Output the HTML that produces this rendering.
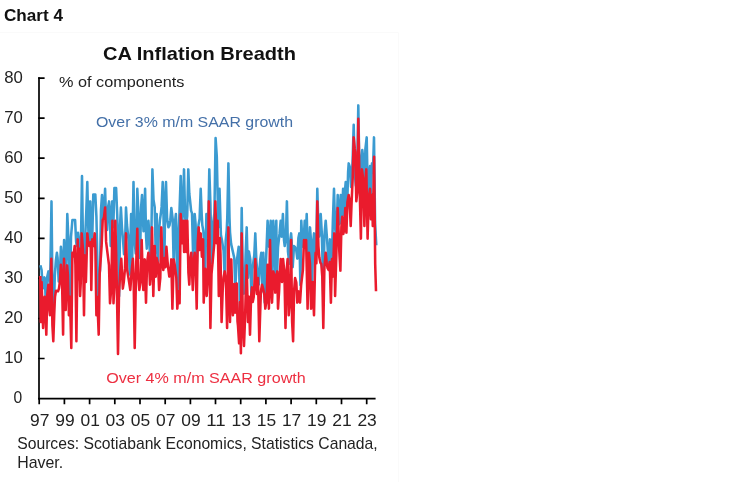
<!DOCTYPE html>
<html><head><meta charset="utf-8">
<style>
html,body{margin:0;padding:0;background:#fff;}
body{width:750px;height:482px;position:relative;overflow:hidden;font-family:"Liberation Sans",sans-serif;}
svg{position:absolute;left:0;top:0;}
text{font-family:"Liberation Sans",sans-serif;}
</style></head><body>
<svg width="750" height="482" viewBox="0 0 750 482">
<rect x="0" y="0" width="750" height="482" fill="#fff"/>
<path d="M0 32.5H398.5V482" fill="none" stroke="#fafafa" stroke-width="1"/>
<text x="4" y="21" font-size="16.8" font-weight="bold" fill="#111" textLength="59" lengthAdjust="spacingAndGlyphs">Chart 4</text>
<text x="103" y="60" font-size="18.2" font-weight="bold" fill="#111" textLength="193" lengthAdjust="spacingAndGlyphs">CA Inflation Breadth</text>
<text x="59" y="86.6" font-size="15.5" fill="#222" textLength="125.5" lengthAdjust="spacingAndGlyphs">% of components</text>
<text x="96" y="126.6" font-size="15.5" fill="#4470a8" textLength="197" lengthAdjust="spacingAndGlyphs">Over 3% m/m SAAR growth</text>
<text x="106.2" y="382.9" font-size="15.5" fill="#ed2f41" textLength="199.5" lengthAdjust="spacingAndGlyphs">Over 4% m/m SAAR growth</text>
<g font-size="15.7" fill="#222">
<text x="4.2" y="82.7" textLength="18.6" lengthAdjust="spacingAndGlyphs">80</text><text x="4.2" y="122.8" textLength="18.6" lengthAdjust="spacingAndGlyphs">70</text><text x="4.2" y="162.8" textLength="18.6" lengthAdjust="spacingAndGlyphs">60</text><text x="4.2" y="202.9" textLength="18.6" lengthAdjust="spacingAndGlyphs">50</text><text x="4.2" y="243.0" textLength="18.6" lengthAdjust="spacingAndGlyphs">40</text><text x="4.2" y="283.0" textLength="18.6" lengthAdjust="spacingAndGlyphs">30</text><text x="4.2" y="323.1" textLength="18.6" lengthAdjust="spacingAndGlyphs">20</text><text x="4.2" y="363.1" textLength="18.6" lengthAdjust="spacingAndGlyphs">10</text><text x="13.6" y="403.4" textLength="8.7" lengthAdjust="spacingAndGlyphs">0</text>
</g>
<g stroke="#000" stroke-width="1.7" fill="none">
<path d="M39 77.3V399.4"/>
<path d="M38.2 398.6H375.6"/>
<path d="M38.2 358.5H44.6M38.2 318.5H44.6M38.2 278.4H44.6M38.2 238.4H44.6M38.2 198.3H44.6M38.2 158.2H44.6M38.2 118.2H44.6M38.2 78.1H44.6"/>
<path d="M39.2 398V404.2M64.4 398V404.2M89.6 398V404.2M114.8 398V404.2M140.0 398V404.2M165.2 398V404.2M190.4 398V404.2M215.5 398V404.2M240.7 398V404.2M265.9 398V404.2M291.1 398V404.2M316.3 398V404.2M341.5 398V404.2M366.7 398V404.2"/>
</g>
<g id="series" fill="none" stroke-linejoin="round" stroke-linecap="butt">
<path d="M40.4 265.3 L41.6 270.1 L42.7 288.6 L43.7 279.2 L44.4 277.4 L45.0 282.8 L46.0 306.6 L47.0 278.0 L48.4 271.4 L49.7 283.3 L50.4 267.3 L51.5 201.4 L52.5 293.3 L53.7 315.7 L54.8 275.8 L55.9 260.4 L56.9 252.7 L57.6 258.0 L58.7 281.5 L59.9 274.9 L60.9 246.7 L61.5 253.9 L62.5 284.7 L63.1 276.2 L64.1 240.0 L65.2 269.7 L65.7 276.6 L66.3 264.5 L67.3 214.0 L68.4 238.7 L69.0 260.5 L70.0 303.3 L71.0 236.8 L72.4 220.0 L75.1 220.0 L76.1 241.3 L76.7 246.0 L78.0 232.7 L78.5 236.8 L79.6 255.3 L81.0 239.9 L82.0 176.0 L83.0 245.2 L84.4 262.0 L85.5 230.5 L86.3 211.0 L87.3 182.0 L88.4 231.8 L89.1 243.7 L90.3 201.4 L91.3 246.0 L92.3 236.2 L93.3 194.4 L95.3 194.4 L96.4 216.4 L97.0 242.7 L98.0 303.3 L99.0 277.0 L100.0 270.3 L101.0 209.6 L102.0 195.1 L103.3 217.1 L104.0 211.9 L105.1 188.7 L106.1 222.1 L107.1 230.0 L108.1 206.7 L109.1 201.4 L109.6 209.9 L110.7 246.0 L111.7 209.9 L112.3 201.4 L113.3 227.3 L114.4 188.0 L116.1 188.0 L117.2 214.3 L118.0 240.4 L119.1 296.2 L120.1 224.9 L120.9 207.6 L122.0 228.1 L123.0 239.6 L124.0 254.1 L125.0 245.3 L126.0 207.6 L127.0 225.0 L128.7 241.4 L129.7 274.4 L131.1 214.0 L132.1 265.3 L133.5 182.0 L134.5 239.5 L135.7 253.4 L136.3 240.9 L137.3 188.7 L138.4 213.0 L138.9 230.0 L140.0 258.0 L141.1 207.3 L142.0 195.1 L143.5 231.3 L144.0 223.2 L145.1 188.7 L146.1 237.1 L146.8 248.6 L147.9 225.9 L148.4 220.7 L148.9 227.6 L150.0 257.4 L151.3 240.2 L152.4 169.4 L153.5 199.6 L154.7 207.3 L155.7 252.6 L156.7 214.0 L157.7 267.3 L158.8 233.6 L159.9 220.4 L160.9 213.3 L161.6 206.9 L162.7 182.0 L163.2 198.1 L164.3 264.6 L165.3 198.1 L166.0 182.0 L167.1 218.7 L168.4 227.3 L169.5 225.3 L170.3 220.4 L171.3 208.0 L172.7 219.2 L173.7 266.0 L174.8 224.0 L175.9 214.0 L176.4 230.4 L177.5 298.0 L178.5 238.4 L179.6 208.8 L180.7 176.0 L182.0 223.7 L182.9 213.3 L184.0 169.4 L185.1 216.1 L186.0 227.3 L187.2 216.1 L188.3 169.4 L189.3 193.7 L190.0 200.0 L191.1 210.7 L192.0 213.3 L193.3 262.1 L194.7 214.0 L195.6 224.2 L196.7 267.0 L197.7 236.8 L198.5 225.0 L199.6 218.7 L200.7 188.7 L201.7 214.9 L202.3 225.1 L203.3 230.7 L204.0 239.7 L205.1 275.3 L206.4 214.0 L207.6 236.6 L208.3 223.6 L209.3 169.4 L210.4 203.7 L210.9 226.6 L212.0 263.3 L213.1 223.5 L214.4 213.3 L215.6 138.0 L216.8 156.7 L218.3 227.3 L219.5 188.7 L220.9 234.7 L222.0 240.4 L223.6 250.9 L224.7 278.0 L225.7 240.3 L226.7 230.7 L227.3 217.1 L228.4 163.4 L229.5 218.1 L230.0 232.0 L231.1 243.9 L234.3 258.1 L235.3 290.6 L236.4 264.1 L237.3 257.3 L238.7 246.7 L240.0 308.6 L240.7 288.9 L241.7 208.0 L242.8 276.9 L244.0 293.6 L245.1 271.5 L245.6 255.2 L246.7 227.4 L248.0 277.8 L248.9 251.4 L250.3 259.5 L251.3 294.0 L252.4 269.7 L254.3 254.8 L255.3 233.4 L256.4 261.6 L257.6 274.2 L258.7 284.6 L259.7 267.1 L260.3 259.1 L261.3 252.7 L262.4 291.3 L263.3 252.7 L264.7 302.4 L265.7 267.1 L266.6 247.1 L267.6 220.7 L269.1 246.6 L269.6 241.9 L270.7 220.7 L272.0 272.2 L273.3 220.7 L274.0 232.9 L275.1 284.0 L276.3 220.7 L276.9 278.0 L278.0 247.3 L279.6 233.2 L280.7 220.7 L281.7 236.6 L282.9 214.0 L284.0 240.0 L284.7 246.0 L285.9 237.5 L286.9 201.4 L288.0 251.6 L289.3 263.7 L290.4 239.0 L291.1 233.4 L291.6 239.7 L292.7 267.2 L294.0 246.0 L295.1 247.2 L296.3 250.5 L297.3 258.6 L298.4 238.0 L299.3 233.4 L300.4 285.0 L301.3 220.7 L302.4 241.9 L302.9 246.6 L303.6 241.9 L304.7 220.7 L305.6 246.6 L306.7 214.0 L307.7 250.7 L308.7 259.3 L310.0 227.4 L310.9 239.2 L312.0 288.6 L313.1 244.0 L314.0 233.4 L315.3 259.3 L316.3 245.6 L317.3 188.7 L318.4 227.5 L319.1 236.6 L319.6 232.5 L320.7 214.0 L321.7 231.4 L322.3 251.7 L323.3 297.2 L324.4 235.6 L325.7 220.7 L326.8 235.9 L327.6 247.7 L328.7 268.6 L330.0 239.4 L331.3 265.7 L332.4 238.7 L332.9 219.9 L334.0 188.7 L335.1 227.5 L336.0 236.6 L336.7 228.7 L337.7 195.1 L338.8 218.8 L339.3 224.2 L340.7 195.1 L341.7 223.3 L343.1 188.7 L344.1 214.6 L345.2 188.1 L345.7 182.0 L347.1 208.6 L348.1 172.0 L348.7 163.4 L350.0 167.7 L351.1 187.0 L352.1 173.0 L352.7 157.8 L353.7 124.7 L354.8 174.1 L355.9 186.0 L357.2 170.3 L358.3 105.4 L359.3 165.4 L360.7 179.9 L361.7 155.6 L362.3 150.0 L363.3 158.9 L364.4 196.7 L365.4 148.8 L366.7 137.4 L367.7 191.0 L368.4 203.9 L369.4 173.2 L370.0 166.0 L370.9 195.3 L372.0 163.4 L372.9 172.6 L374.0 137.4 L375.1 223.6 L376.3 245.3" stroke="#3b9bd1" stroke-width="2.55"/>
<path d="M40.3 276.0 L40.8 322.0 L41.6 282.0 L43.1 328.0 L44.1 302.5 L44.7 296.7 L45.2 303.9 L46.3 334.6 L47.3 294.3 L48.4 284.7 L49.4 309.6 L50.0 315.3 L51.3 258.7 L52.4 325.2 L53.3 341.3 L54.4 309.2 L55.0 296.8 L56.0 290.7 L58.0 291.3 L59.0 288.4 L59.9 281.6 L60.9 264.7 L62.0 278.3 L63.1 334.6 L64.0 258.7 L65.0 300.1 L65.7 310.0 L67.1 265.4 L67.9 274.9 L68.9 315.3 L70.0 296.7 L71.3 348.0 L72.4 252.7 L73.5 256.6 L74.7 246.0 L75.4 264.7 L76.4 341.3 L77.7 239.4 L78.7 279.3 L79.3 248.7 L80.1 296.0 L80.7 283.9 L81.7 233.4 L83.0 249.3 L84.0 315.3 L84.9 255.4 L85.9 282.0 L87.3 233.4 L88.4 243.9 L89.3 246.0 L90.7 242.0 L91.3 290.0 L92.3 239.4 L93.3 246.0 L94.7 233.4 L95.4 249.3 L96.4 315.3 L97.2 296.7 L98.7 334.6 L99.7 273.9 L101.6 246.2 L102.7 220.0 L104.0 217.4 L105.1 207.6 L106.1 241.9 L109.0 265.2 L110.0 303.3 L111.4 287.2 L112.4 220.7 L113.5 303.3 L114.3 287.2 L115.3 220.7 L116.4 263.4 L117.0 295.7 L118.0 354.0 L119.0 293.8 L120.3 270.6 L121.3 258.7 L122.8 288.6 L123.8 282.0 L125.0 268.4 L126.0 233.4 L127.0 268.7 L129.2 282.6 L130.3 290.0 L131.3 276.0 L131.9 268.1 L132.9 258.7 L133.6 276.1 L134.7 348.0 L135.7 290.2 L136.3 261.2 L137.3 228.7 L138.4 278.1 L139.3 290.0 L140.7 280.4 L141.7 240.0 L142.8 280.4 L143.3 290.0 L144.7 259.4 L146.0 302.6 L147.1 262.3 L148.4 252.7 L148.9 258.7 L150.0 284.6 L150.9 273.6 L152.0 227.4 L153.3 296.0 L154.7 246.0 L155.7 276.6 L156.7 258.0 L158.0 264.0 L159.1 290.0 L160.3 277.9 L161.3 227.4 L162.4 261.9 L163.3 270.0 L164.7 258.0 L165.5 267.3 L166.4 246.7 L167.5 261.1 L168.3 268.6 L169.3 276.6 L170.3 273.6 L171.3 259.4 L172.4 308.6 L173.7 259.4 L174.8 265.3 L176.3 277.4 L177.3 308.6 L178.5 291.4 L179.6 303.3 L180.7 214.0 L182.0 243.3 L183.1 220.7 L184.1 252.0 L185.2 220.7 L186.3 252.0 L187.3 220.7 L188.4 272.3 L189.3 284.6 L190.4 258.7 L191.3 252.7 L192.8 290.0 L193.9 259.7 L194.7 252.7 L195.6 263.5 L196.7 308.6 L197.7 243.2 L198.7 227.4 L199.7 250.0 L200.7 233.4 L201.9 256.6 L203.1 239.4 L203.7 302.6 L204.8 275.1 L205.3 268.7 L206.7 296.0 L207.8 277.5 L208.8 201.4 L209.3 226.3 L210.4 328.0 L211.5 274.2 L214.3 243.5 L215.3 201.4 L216.7 243.3 L217.7 220.7 L218.8 296.0 L219.9 238.0 L220.5 254.4 L221.6 322.0 L222.7 289.9 L223.6 277.4 L224.7 271.4 L226.0 282.3 L227.1 328.0 L228.4 227.4 L229.5 303.5 L230.0 322.0 L231.3 259.4 L232.4 304.5 L232.9 315.3 L234.3 284.0 L235.3 312.6 L236.7 283.4 L237.5 321.3 L238.0 325.9 L239.1 343.3 L240.0 302.0 L240.9 353.3 L241.7 233.4 L242.8 323.9 L244.0 346.0 L245.1 316.9 L245.6 297.2 L246.7 265.4 L248.0 322.0 L248.9 296.7 L250.0 334.6 L251.1 296.4 L252.0 287.4 L252.7 302.0 L253.7 296.9 L254.3 286.3 L255.3 259.1 L256.4 287.4 L256.9 294.0 L258.0 278.0 L259.3 341.3 L260.4 305.5 L260.9 291.5 L262.0 284.7 L263.1 288.3 L264.3 294.4 L265.3 308.6 L266.6 300.3 L267.6 264.7 L268.9 308.6 L270.0 240.0 L271.1 290.5 L272.0 302.6 L273.3 271.4 L274.3 275.2 L275.3 292.6 L276.4 275.2 L277.3 271.4 L278.0 308.6 L279.1 290.9 L279.6 278.7 L280.7 259.1 L282.0 282.0 L283.1 259.1 L284.4 272.5 L285.5 328.0 L286.5 272.5 L287.6 259.1 L288.7 315.3 L290.0 300.7 L291.1 240.0 L292.1 321.5 L293.1 341.3 L294.1 290.3 L295.1 278.0 L296.3 282.5 L297.3 302.6 L298.7 291.4 L300.0 302.6 L301.1 285.4 L302.9 270.0 L304.0 240.0 L305.1 247.3 L306.1 240.0 L307.6 308.6 L308.9 252.7 L310.0 263.5 L311.1 308.6 L312.4 282.0 L312.9 288.3 L314.0 315.3 L315.1 264.8 L315.6 252.7 L316.4 263.3 L317.3 201.4 L318.4 246.0 L319.3 257.3 L320.4 262.7 L321.3 264.0 L322.3 276.9 L323.3 328.0 L324.4 267.3 L325.7 252.7 L326.8 263.8 L327.6 268.2 L328.7 270.0 L329.7 262.0 L330.9 302.6 L332.0 259.1 L332.9 276.6 L334.3 233.4 L335.1 296.0 L336.1 262.8 L336.7 241.4 L337.7 208.0 L338.8 235.9 L339.3 251.2 L340.4 270.6 L341.4 227.1 L342.3 216.7 L343.3 234.0 L344.3 229.2 L345.3 208.0 L346.4 232.6 L347.4 202.2 L348.7 195.1 L349.6 200.9 L350.7 226.0 L351.7 199.9 L352.7 178.3 L353.7 137.4 L354.8 148.9 L355.3 152.0 L356.3 201.3 L357.6 189.3 L358.3 118.7 L359.3 169.2 L359.9 198.3 L360.9 238.6 L362.0 169.4 L363.3 180.3 L364.4 226.0 L365.4 180.3 L366.3 169.4 L367.6 238.6 L368.7 198.3 L370.0 188.7 L370.9 219.3 L372.0 195.1 L372.8 226.0 L374.1 156.7 L375.2 264.3 L376.0 291.3" stroke="#ea1b2d" stroke-width="2.55"/>
</g>
<g font-size="15.7" fill="#222">
<text x="30.1" y="425.9" textLength="19.4" lengthAdjust="spacingAndGlyphs">97</text><text x="55.3" y="425.9" textLength="19.4" lengthAdjust="spacingAndGlyphs">99</text><text x="80.5" y="425.9" textLength="19.4" lengthAdjust="spacingAndGlyphs">01</text><text x="105.6" y="425.9" textLength="19.4" lengthAdjust="spacingAndGlyphs">03</text><text x="130.8" y="425.9" textLength="19.4" lengthAdjust="spacingAndGlyphs">05</text><text x="156.0" y="425.9" textLength="19.4" lengthAdjust="spacingAndGlyphs">07</text><text x="181.2" y="425.9" textLength="19.4" lengthAdjust="spacingAndGlyphs">09</text><text x="206.3" y="425.9" textLength="19.4" lengthAdjust="spacingAndGlyphs">11</text><text x="231.5" y="425.9" textLength="19.4" lengthAdjust="spacingAndGlyphs">13</text><text x="256.7" y="425.9" textLength="19.4" lengthAdjust="spacingAndGlyphs">15</text><text x="281.9" y="425.9" textLength="19.4" lengthAdjust="spacingAndGlyphs">17</text><text x="307.0" y="425.9" textLength="19.4" lengthAdjust="spacingAndGlyphs">19</text><text x="332.2" y="425.9" textLength="19.4" lengthAdjust="spacingAndGlyphs">21</text><text x="357.4" y="425.9" textLength="19.4" lengthAdjust="spacingAndGlyphs">23</text>
</g>
<text x="17.2" y="448.8" font-size="15.7" fill="#222" textLength="360.5" lengthAdjust="spacingAndGlyphs">Sources: Scotiabank Economics, Statistics Canada,</text>
<text x="17.2" y="468" font-size="15.7" fill="#222" textLength="46" lengthAdjust="spacingAndGlyphs">Haver.</text>
</svg>
</body></html>
